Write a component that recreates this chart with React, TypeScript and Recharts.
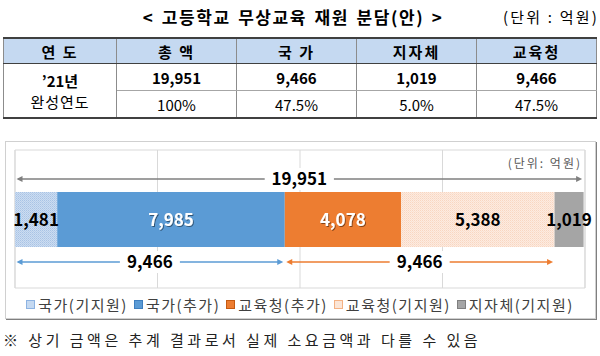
import React from 'react';
import { BarChart, Bar, XAxis, YAxis, CartesianGrid, ReferenceLine, ReferenceArea, LabelList, Legend } from 'recharts';

const categories = ['완성연도'];
const seriesKeys = ['nationBase', 'nationAdd', 'eduAdd', 'eduBase', 'local'];
const seriesNames = ['국가(기지원)', '국가(추가)', '교육청(추가)', '교육청(기지원)', '지자체(기지원)'];
const seriesValues = [1481, 7985, 4078, 5388, 1019];

const xTicks = [0, 5000, 10000, 15000, 20000];

// arrows drawn over / under the bar: start, end, label
const arrowFrom = [0, 0, 9466];
const arrowTo = [19951, 9466, 18932];
const arrowLabels = ['19,951', '9,466', '9,466'];

const tableHeaders = ['연 도', '총 액', '국 가', '지자체', '교육청'];
const tableAmounts = ['19,951', '9,466', '1,019', '9,466'];
const tableShares = ['100%', '47.5%', '5.0%', '47.5%'];

const data = categories.map((name) => {
  const row: Record<string, string | number> = { name };
  seriesKeys.forEach((k, i) => (row[k] = seriesValues[i]));
  return row;
});

const barFills = ['url(#dotBlue)', '#5B9BD5', '#ED7D31', 'url(#dotPeach)', '#A5A5A5'];
const swatchFills = ['#C5D9F1', '#5B9BD5', '#ED7D31', '#FBE5D6', '#A5A5A5'];
const swatchBorders = ['#8DB3E2', '#3F7FBF', '#C55A11', '#F4B183', '#7F7F7F'];
const labelColors = ['#000', '#fff', '#fff', '#000', '#000'];
const arrowColors = ['#7F7F7F', '#5B9BD5', '#ED7D31'];
const arrowOffsets = [-40, 43, 43];

const FONT = '"Noto Sans CJK KR", "Noto Sans", sans-serif';

function BarLabel(props: any) {
  const { x, y, width, height, value, color } = props;
  return (
    <text
      x={x + width / 2}
      y={y + height / 2}
      dy="0.36em"
      textAnchor="middle"
      fontSize={17}
      fontWeight={700}
      fill={color}
      filter={color === '#fff' ? 'url(#txtShadow)' : undefined}
    >
      {Number(value).toLocaleString('en-US')}
    </text>
  );
}

function Arrow(props: any) {
  const { x1, x2, y1, dy, color, label } = props;
  const y = y1 + dy;
  const a = x1 + 1.5;
  const b = x2 - 1.5;
  const mid = (a + b) / 2;
  const half = label.length * 4.6 + 7;
  return (
    <g>
      <line x1={a + 2} x2={b - 2} y1={y} y2={y} stroke={color} strokeWidth={1.5} />
      <path d={`M${a},${y} l6,-3 v6 z`} fill={color} />
      <path d={`M${b},${y} l-6,-3 v6 z`} fill={color} />
      <rect x={mid - half} y={y - 11} width={half * 2} height={22} fill="#fff" />
      <text x={mid} y={y} dy="0.36em" textAnchor="middle" fontSize={17} fontWeight={700} fill="#000">
        {label}
      </text>
    </g>
  );
}

function LegendContent(props: any) {
  const payload = [...(props.payload || [])].sort(
    (p: any, q: any) => seriesKeys.indexOf(p.dataKey) - seriesKeys.indexOf(q.dataKey)
  );
  return (
    <div
      style={{
        display: 'flex',
        justifyContent: 'center',
        alignItems: 'center',
        height: 22,
        fontSize: 15,
        color: '#404040',
        letterSpacing: 1.5,
      }}
    >
      {payload.map((p: any, n: number) => {
        const i = seriesKeys.indexOf(p.dataKey);
        return (
          <span key={p.dataKey} style={{ display: 'inline-flex', alignItems: 'center', marginRight: n < payload.length - 1 ? 6 : 0 }}>
            <span
              style={{
                display: 'inline-block',
                width: 7,
                height: 7,
                background: swatchFills[i],
                border: `1px solid ${swatchBorders[i]}`,
                marginRight: 3,
              }}
            />
            {p.value}
          </span>
        );
      })}
    </div>
  );
}

const cell: React.CSSProperties = {
  padding: 0,
  textAlign: 'center',
  borderLeft: '1px solid #8c8c8c',
  borderRight: '1px solid #8c8c8c',
};

export default function App() {
  return (
    <div style={{ position: 'absolute', left: 0, top: 0, width: 600, height: 356, background: '#fff', fontFamily: FONT, color: '#000' }}>
      <div style={{ position: 'absolute', left: 0, top: 6, width: 586, textAlign: 'center', fontSize: 17, fontWeight: 700, lineHeight: '22px', letterSpacing: 1.6, wordSpacing: 2 }}>
        {'< 고등학교 무상교육 재원 분담(안) >'}
      </div>
      <div style={{ position: 'absolute', right: 1, top: 6, fontSize: 15, lineHeight: '22px', letterSpacing: 2.2 }}>
        (단위 : 억원)
      </div>

      <table style={{ position: 'absolute', left: 3, top: 37, width: 593, borderCollapse: 'collapse', tableLayout: 'fixed', fontSize: 15 }}>
        <colgroup>
          <col style={{ width: 113 }} />
          <col style={{ width: 120 }} />
          <col style={{ width: 120 }} />
          <col style={{ width: 120 }} />
          <col style={{ width: 120 }} />
        </colgroup>
        <tbody>
          <tr>
            {tableHeaders.map((h) => (
              <td
                key={h}
                style={{
                  ...cell,
                  height: 24,
                  background: '#C5D9F1',
                  fontWeight: 700,
                  letterSpacing: 2,
                  borderTop: '2px solid #404040',
                  borderBottom: '1px solid #404040',
                }}
              >
                {h}
              </td>
            ))}
          </tr>
          <tr>
            <td rowSpan={2} style={{ ...cell, borderBottom: '2px solid #404040', lineHeight: '21px' }}>
              <div style={{ fontWeight: 700 }}>’21년</div>
              <div style={{ letterSpacing: 1 }}>완성연도</div>
            </td>
            {tableAmounts.map((v, i) => (
              <td key={i} style={{ ...cell, height: 26, fontWeight: 700, borderBottom: '1px solid #a6a6a6' }}>
                {v}
              </td>
            ))}
          </tr>
          <tr>
            {tableShares.map((v, i) => (
              <td key={i} style={{ ...cell, height: 26, borderBottom: '2px solid #404040' }}>
                {v}
              </td>
            ))}
          </tr>
        </tbody>
      </table>

      <div
        style={{
          position: 'absolute',
          left: 5,
          top: 141,
          width: 589,
          height: 176,
          border: '1px solid #d0d0d0',
          boxShadow: '1px 1px 0 #7f7f7f',
        }}
      >
        <BarChart
          width={589}
          height={176}
          data={data}
          layout="vertical"
          margin={{ top: 8, right: 10, bottom: 8, left: 9 }}
          barSize={55}
        >
          <defs>
            <pattern id="dotBlue" width="2" height="2" patternUnits="userSpaceOnUse">
              <rect width="2" height="2" fill="#CCDDF1" />
              <rect width="1" height="1" fill="#A9C3E5" />
              <rect x="1" y="1" width="1" height="1" fill="#B7CDEA" />
            </pattern>
            <pattern id="dotPeach" width="2" height="2" patternUnits="userSpaceOnUse">
              <rect width="2" height="2" fill="#FDEBE0" />
              <rect width="1" height="1" fill="#F8D6C1" />
              <rect x="1" y="1" width="1" height="1" fill="#FAE0D0" />
            </pattern>
            <filter id="txtShadow" x="-20%" y="-20%" width="140%" height="140%">
              <feDropShadow dx="1" dy="1" stdDeviation="0.5" floodColor="#000" floodOpacity="0.45" />
            </filter>
          </defs>
          <CartesianGrid horizontal={false} stroke="#d9d9d9" />
          <XAxis type="number" domain={[0, 20000]} ticks={xTicks} hide />
          <YAxis type="category" dataKey="name" hide />
          <ReferenceArea x1={0} x2={20000} fill="none" stroke="#d9d9d9" ifOverflow="visible" />
          {seriesKeys.map((k, i) => (
            <Bar key={k} dataKey={k} name={seriesNames[i]} stackId="a" fill={barFills[i]} isAnimationActive={false}>
              <LabelList dataKey={k} content={(p: any) => <BarLabel {...p} color={labelColors[i]} />} />
            </Bar>
          ))}
          {arrowFrom.map((from, i) => (
            <ReferenceLine
              key={i}
              segment={[
                { x: from, y: categories[0] },
                { x: arrowTo[i], y: categories[0] },
              ]}
              ifOverflow="visible"
              shape={(p: any) => <Arrow {...p} dy={arrowOffsets[i]} color={arrowColors[i]} label={arrowLabels[i]} />}
            />
          ))}
          <Legend content={LegendContent} wrapperStyle={{ bottom: 3 }} />
        </BarChart>
        <div style={{ position: 'absolute', right: 13, top: 13, fontSize: 12, color: '#595959', letterSpacing: 2, lineHeight: '16px' }}>
          (단위: 억원)
        </div>
      </div>

      <div style={{ position: 'absolute', left: 3, top: 330, fontSize: 15, lineHeight: '20px', letterSpacing: 3.5, color: '#222' }}>
        ※ 상기 금액은 추계 결과로서 실제 소요금액과 다를 수 있음
      </div>
    </div>
  );
}
